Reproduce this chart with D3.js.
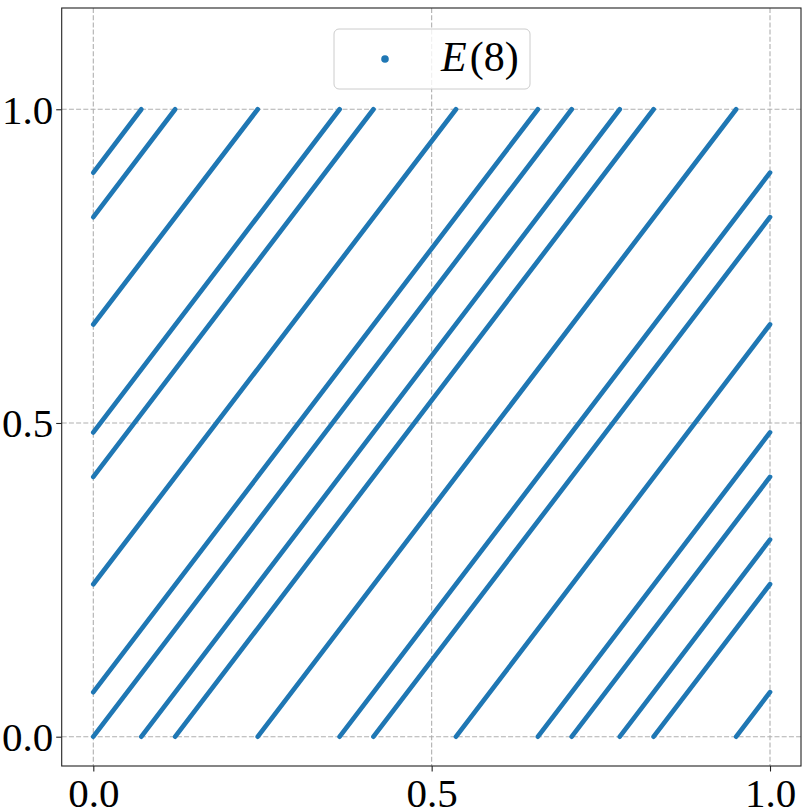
<!DOCTYPE html>
<html>
<head>
<meta charset="utf-8">
<script src="https://cdn.jsdelivr.net/npm/d3@7"></script>
<style>
  html, body { margin: 0; padding: 0; background: #fff; }
  svg { display: block; }
</style>
</head>
<body>
<div id="chart"></div>
<script>
// Segment endpoints of the trajectory E(8)
const segX0 = [0, 0.707, 0, 0.414, 0, 0.121, 0.828, 0, 0.536, 0, 0.243, 0.950, 0, 0.657, 0, 0.364, 0, 0.071, 0.778];
const segY0 = [0, 0, 0.414, 0, 0.828, 0, 0, 0.243, 0, 0.657, 0, 0, 0.071, 0, 0.485, 0, 0.899, 0, 0];
const segX1 = [0.707, 1, 0.414, 1, 0.121, 0.828, 1, 0.536, 1, 0.243, 0.950, 1, 0.657, 1, 0.364, 1, 0.071, 0.778, 1];
const segY1 = [1, 0.414, 1, 0.828, 1, 1, 0.243, 1, 0.657, 1, 1, 0.071, 1, 0.485, 1, 0.899, 1, 1, 0.314];
const xTicks = [0, 0.5, 1];
const yTicks = [0, 0.5, 1];
const tickLabels = ["0.0", "0.5", "1.0"];
const seriesName = "E(8)";

(function () {
const W = 810, H = 810;
const pL = 61.7, pR = 801, pT = 8, pB = 766;
const color = "#1f77b4";

const x = d3.scaleLinear().domain([-0.0467, 1.0458]).range([pL, pR]);
const y = d3.scaleLinear().domain([-0.0467, 1.1614]).range([pB, pT]);

const svg = d3.select("#chart").append("svg").attr("width", W).attr("height", H);

// grid
const grid = svg.append("g");
grid.selectAll(".gx").data(xTicks).enter().append("line")
  .attr("x1", d => x(d)).attr("x2", d => x(d)).attr("y1", pT).attr("y2", pB)
  .attr("stroke", "#b0b0b0").attr("stroke-width", 1.1).attr("stroke-dasharray", "5,2.2");
grid.selectAll(".gy").data(yTicks).enter().append("line")
  .attr("y1", d => y(d)).attr("y2", d => y(d)).attr("x1", pL).attr("x2", pR)
  .attr("stroke", "#b0b0b0").attr("stroke-width", 1.1).attr("stroke-dasharray", "5,2.2");

// segments
const segs = segX0.map((d, i) => [[segX0[i], segY0[i]], [segX1[i], segY1[i]]]);
const line = d3.line().x(d => x(d[0])).y(d => y(d[1]));
svg.append("g").selectAll("path").data(segs).enter().append("path")
  .attr("d", line).attr("fill", "none").attr("stroke", color)
  .attr("stroke-width", 4.7).attr("stroke-linecap", "round");

// axes
const fmt = (d, i) => tickLabels[i];
const xAxis = svg.append("g").attr("transform", `translate(0,${pB})`)
  .call(d3.axisBottom(x).tickValues(xTicks).tickFormat(fmt).tickSize(5.5).tickPadding(6));
const yAxis = svg.append("g").attr("transform", `translate(${pL},0)`)
  .call(d3.axisLeft(y).tickValues(yTicks).tickFormat(fmt).tickSize(5.5).tickPadding(3));
[xAxis, yAxis].forEach(a => {
  a.select(".domain").remove();
  a.selectAll(".tick line").attr("stroke", "#222").attr("stroke-width", 1.1);
  a.selectAll(".tick text").attr("font-family", "'Liberation Serif', 'DejaVu Serif', serif")
    .attr("font-size", 41).attr("fill", "#000");
});
yAxis.selectAll(".tick text").attr("dy", "0.34em");

// frame
svg.append("rect").attr("x", pL).attr("y", pT).attr("width", pR - pL).attr("height", pB - pT)
  .attr("fill", "none").attr("stroke", "#222").attr("stroke-width", 1.1);

// legend
const lg = svg.append("g");
lg.append("rect").attr("x", 334).attr("y", 29).attr("width", 196).attr("height", 60).attr("rx", 5)
  .attr("fill", "rgba(255,255,255,0.8)").attr("stroke", "#cccccc").attr("stroke-width", 1);
lg.append("circle").attr("cx", 385).attr("cy", 59).attr("r", 3.8).attr("fill", color);
const lt = lg.append("text").attr("x", 441).attr("y", 71)
  .attr("font-family", "'Liberation Serif', 'DejaVu Serif', serif").attr("font-size", 42).attr("fill", "#000");
lt.append("tspan").attr("font-style", "italic").text(seriesName.slice(0, 1));
lt.append("tspan").attr("dx", 3).text(seriesName.slice(1));
})();
</script>
</body>
</html>
